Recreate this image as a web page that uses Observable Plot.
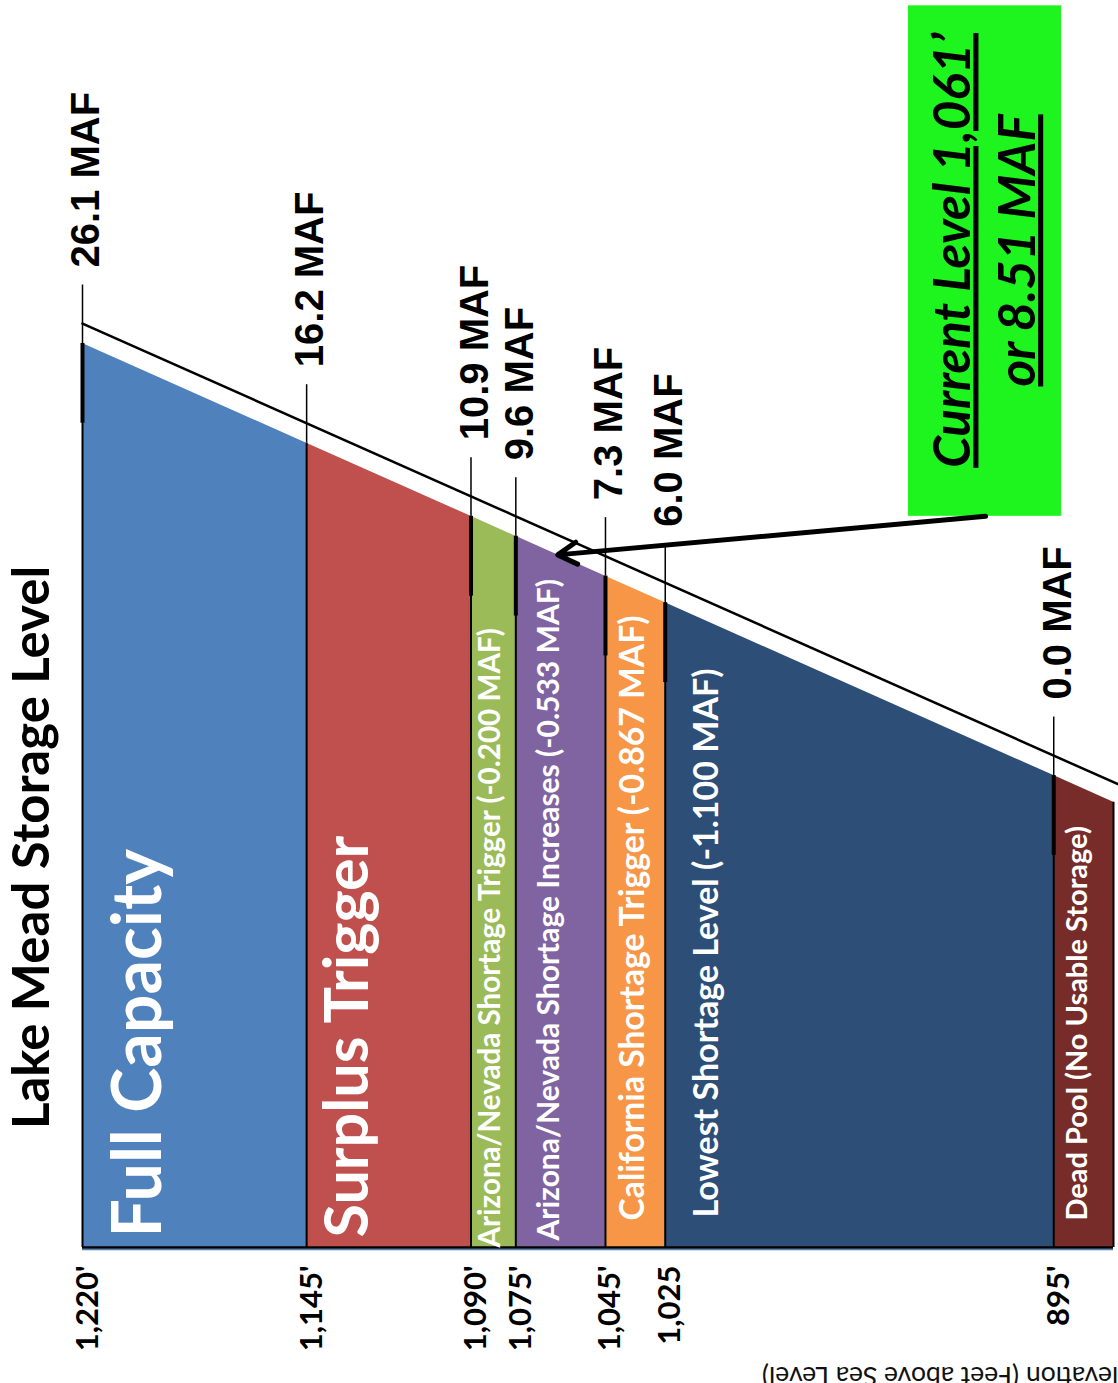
<!DOCTYPE html>
<html>
<head>
<meta charset="utf-8">
<script src="https://cdn.jsdelivr.net/npm/d3@7"></script>
<script src="https://cdn.jsdelivr.net/npm/@observablehq/plot@0.6"></script>
<style>
  body { margin: 0; background: #fff; }
</style>
</head>
<body>
<div id="chart"></div>
<script>
// Key elevations of Lake Mead (feet above sea level) and the storage at each
const elevations = [1220, 1145, 1090, 1075, 1045, 1025, 895];
const storageMaf = [26.1, 16.2, 10.9, 9.6, 7.3, 6.0, 0.0];
const elevationLabels = ["1,220'", "1,145'", "1,090'", "1,075'", "1,045'", "1,025", "895'"];

// Operating zones between those elevations
const bandNames = [
  "Full Capacity",
  "Surplus Trigger",
  "Arizona/Nevada Shortage Trigger (-0.200 MAF)",
  "Arizona/Nevada Shortage Increases (-0.533 MAF)",
  "California Shortage Trigger (-0.867 MAF)",
  "Lowest Shortage Level (-1.100 MAF)",
  "Dead Pool (No Usable Storage)"
];
const bandTop = [1220, 1145, 1090, 1075, 1045, 1025, 895];
const bandBottom = [1145, 1090, 1075, 1045, 1025, 895, 875];

// Current reservoir state
const currentElevation = 1061;
const currentStorage = 8.51;

// ---- styling -------------------------------------------------------------
const bandColors = ["#4F81BD", "#C0504D", "#9BBB59", "#8064A2", "#F79646", "#2D4E77", "#772C2A"];
const bandLabelSize = [68, 61, 29.6, 30, 33.7, 34, 29];
const bandLabelDx = [78, 61, 29, 43, 39, 53, 33];
const bandLabelDy = [-10, -10, 0, -7, -27, -30, -27];

const floor = 540;   // base of the cross-section on the vertical scale
const rim = 15;      // the rim line runs this far above the water surface
const rimEnd = 873;  // rim line continues past the right edge of the frame
const calloutBox = {x1: 943.6, x2: 892.4, y1: 1090, y2: 1474};
const calloutText = {x: 919, y: 1290};
const arrowStart = {x: 917.8, y: 1090};

const sans = "Lato, 'Open Sans', sans-serif";
const arial = "'Liberation Sans', Arial, sans-serif";

// ---- derived tables ------------------------------------------------------
const bandRows = bandNames.flatMap((band, i) => [
  {band, elevation: bandTop[i], color: bandColors[i]},
  {band, elevation: bandBottom[i], color: bandColors[i]}
]);
const levels = elevations.map((elevation, i) => ({
  elevation,
  storage: storageMaf[i],
  label: elevationLabels[i]
}));
const edges = [...bandTop, bandBottom[bandBottom.length - 1]];
// heavy tick just under the surface at each boundary (none at the surplus line)
const heavyTicks = elevations.filter((e) => e !== 1145);

const bandLabelMarks = bandNames.map((name, i) =>
  Plot.text([name], {
    x: () => bandTop[i],
    frameAnchor: "bottom",
    text: (d) => d,
    rotate: -90,
    textAnchor: "start",
    dx: bandLabelDx[i],
    dy: bandLabelDy[i],
    fill: "white",
    fontSize: bandLabelSize[i],
    fontWeight: "bold",
    fontFamily: sans
  })
);

const chart = Plot.plot({
  width: 1118,
  height: 1383,
  marginLeft: 82,
  marginRight: 5,
  marginTop: 343,
  marginBottom: 136,
  x: {domain: [1220, 875], axis: null},
  y: {domain: [floor, 1220], axis: null},
  color: {type: "identity"},
  marks: [
    // the wedge of water, one fill per zone
    Plot.areaY(bandRows, {x: "elevation", y1: floor, y2: "elevation", z: "band", fill: "color"}),
    // floor
    Plot.ruleY([floor], {x1: bandTop[0], x2: bandBottom[bandBottom.length - 1], stroke: "#4F81BD", strokeWidth: 1.5, dy: 2}),
    Plot.ruleY([floor], {x1: bandTop[0], x2: bandBottom[bandBottom.length - 1], stroke: "black", strokeWidth: 2.5}),
    // zone dividers
    Plot.ruleX(edges, {x: (d) => d, y1: floor, y2: (d) => d, stroke: "black", strokeWidth: 2}),
    Plot.ruleX(heavyTicks, {x: (d) => d, y1: (d) => d - 60, y2: (d) => d, stroke: "black", strokeWidth: 4}),
    // leader ticks up to the storage labels
    Plot.ruleX(elevations, {x: (d) => d, y1: (d) => d, y2: (d) => d + 44, stroke: "black", strokeWidth: 1.5}),
    // rim line
    Plot.line([bandTop[0], rimEnd], {x: (d) => d, y: (d) => d + rim, stroke: "black", strokeWidth: 2.5}),
    // storage labels
    Plot.text(levels, {
      x: "elevation",
      y: "elevation",
      text: (d) => d3.format(".1f")(d.storage) + " MAF",
      rotate: -90,
      textAnchor: "start",
      dx: 4,
      dy: -76,
      fill: "black",
      fontSize: 40,
      fontWeight: "bold",
      fontFamily: arial
    }),
    // elevation labels
    Plot.text(levels, {
      x: "elevation",
      frameAnchor: "bottom",
      text: "label",
      rotate: -90,
      textAnchor: "end",
      dx: 15,
      dy: 18,
      fill: "black",
      fontSize: 31,
      fontWeight: "bold",
      fontFamily: sans
    }),
    ...bandLabelMarks,
    // axis title
    Plot.text(["Elevation (Feet above Sea Level)"], {
      frameAnchor: "bottom-right",
      text: (d) => d,
      rotate: 180,
      textAnchor: "start",
      dx: 20,
      dy: 119,
      fill: "#111",
      fontSize: 26.5,
      fontFamily: sans
    }),
    // chart title
    Plot.text(["Lake Mead Storage Level"], {
      frameAnchor: "left",
      text: (d) => d,
      rotate: -90,
      textAnchor: "middle",
      dx: -50,
      dy: 52,
      fill: "black",
      fontSize: 51,
      fontWeight: "bold",
      fontFamily: sans
    }),
    // current level callout
    Plot.rect([calloutBox], {x1: "x1", x2: "x2", y1: "y1", y2: "y2", fill: "#1EF51E"}),
    Plot.text([calloutText], {
      x: "x",
      y: "y",
      text: () => `Current Level ${d3.format(",")(currentElevation)}’\nor ${currentStorage} MAF`,
      rotate: -90,
      textAnchor: "middle",
      lineHeight: 1.27,
      fill: "black",
      fontSize: 51,
      fontWeight: "bold",
      fontStyle: "italic",
      fontFamily: sans
    }),
    Plot.arrow([{x1: arrowStart.x, y1: arrowStart.y, x2: currentElevation, y2: currentElevation}], {
      x1: "x1", y1: "y1", x2: "x2", y2: "y2",
      stroke: "black",
      strokeWidth: 5,
      headLength: 6.6,
      headAngle: 60
    })
  ]
});

d3.select(chart)
  .selectAll("text")
  .filter(function () { return this.textContent.startsWith("Current Level"); })
  .style("text-decoration", "underline");

document.getElementById("chart").append(chart);
</script>
</body>
</html>
